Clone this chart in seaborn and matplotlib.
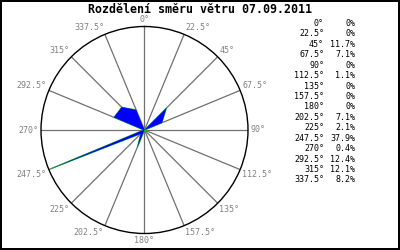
import numpy as np
import pandas as pd
import matplotlib
matplotlib.use("Agg")
import matplotlib.pyplot as plt
import seaborn as sns

title = "Rozdělení směru větru 07.09.2011"
directions = [0, 22.5, 45, 67.5, 90, 112.5, 135, 157.5, 180, 202.5, 225, 247.5, 270, 292.5, 315, 337.5]
percent = [0, 0, 11.7, 7.1, 0, 1.1, 0, 0, 0, 7.1, 2.1, 37.9, 0.4, 12.4, 12.1, 8.2]

sns.set_style("white")
plt.rcParams['font.family'] = ['DejaVu Sans Mono']

fig = plt.figure(figsize=(4, 2.5), dpi=100, facecolor="white", edgecolor="black", linewidth=1.6)
ax = fig.add_axes([0.1025, 0.066, 0.5175, 0.828], projection="polar")
ax.set_theta_zero_location("N")
ax.set_theta_direction(-1)
rmax = 38.7
ax.set_ylim(0, rmax)
ax.set_facecolor("white")

# spokes
ax.set_xticks(np.deg2rad(directions))
ax.set_xticklabels([])
ax.set_yticks([])
ax.xaxis.grid(True, color="#707070", linewidth=0.9)
ax.yaxis.grid(False)
ax.spines["polar"].set_color("black")
ax.spines["polar"].set_linewidth(1.0)

def fmt_deg(d):
    return f"{d:g}°"

# polygon
theta = np.deg2rad(directions + [directions[0]])
vals = percent + [percent[0]]
df = pd.DataFrame({"theta": theta, "r": vals})
sns.lineplot(data=df, x="theta", y="r", sort=False, color="#00cc00", linewidth=0.6, ax=ax, zorder=3)
ax.fill(df["theta"], df["r"], color="#0000ff", linewidth=0, zorder=4)
ax.set_xlabel("")
ax.set_ylabel("")

# direction labels around circle
for d in directions:
    t = np.deg2rad(d)
    s = np.sin(t)
    c = np.cos(t)
    if abs(s) < 1e-6:
        ha = "center"
    elif s > 0:
        ha = "left"
    else:
        ha = "right"
    if abs(c) < 1e-6:
        va = "center"
    elif c > 0:
        va = "bottom"
    else:
        va = "top"
    ax.annotate(fmt_deg(d), xy=(t, rmax), xytext=(1.8 * s, 1.5 * c),
                textcoords="offset points", ha=ha, va=va, fontsize=6,
                color="#808080", annotation_clip=False)

# title
fig.text(0.5, 0.963, title, ha="center", va="center", fontsize=8.4, fontweight="bold", color="black")

# table
y0 = 1 - 23.5 / 250
dy = 10.43 / 250
for i, (d, p) in enumerate(zip(directions, percent)):
    y = y0 - i * dy
    fig.text(324 / 400, y, fmt_deg(d), ha="right", va="center", fontsize=6, color="black")
    ptxt = "0%" if p == 0 else f"{p:.1f}%"
    fig.text(355 / 400, y, ptxt, ha="right", va="center", fontsize=6, color="black")

fig.savefig("out.png", dpi=100, facecolor="white", edgecolor="black")
